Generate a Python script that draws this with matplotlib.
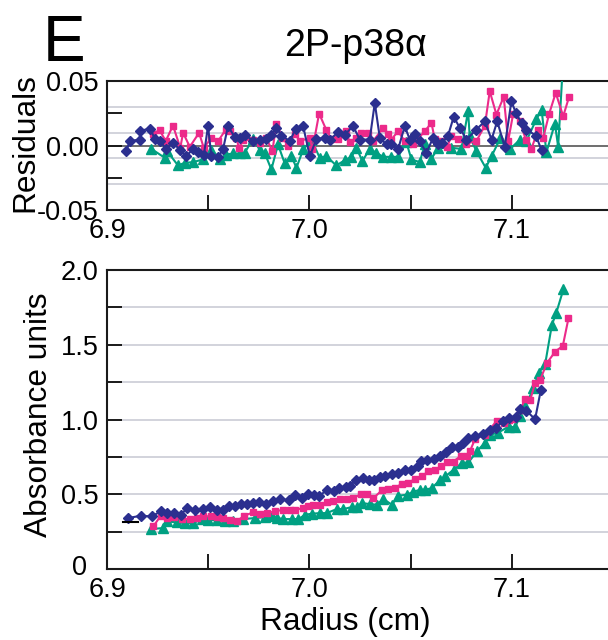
# coding: utf-8

"""
Sedimentation equilibrium of 2P-p38alpha: residuals and absorbance vs radius
"""

import matplotlib
matplotlib.use("Agg")
import matplotlib.pyplot as plt
import matplotlib.transforms as mtransforms

#==========
# Data

# --- absorbance, diamonds (navy)
abs_navy_x = [6.9105, 6.9166, 6.9221, 6.9265, 6.9298, 6.9331, 6.9364, 6.9397, 6.9435, 6.9476,
	6.9509, 6.9542, 6.9575, 6.9605, 6.9633, 6.9661, 6.9690, 6.9723, 6.9753, 6.9786,
	6.9819, 6.9855, 6.9901, 6.9929, 6.9962, 6.9995, 7.0023, 7.0049, 7.0089, 7.0122,
	7.0148, 7.0181, 7.0201, 7.0231, 7.0264, 7.0292, 7.0320, 7.0349, 7.0374, 7.0407,
	7.0440, 7.0473, 7.0501, 7.0539, 7.0550, 7.0580, 7.0616, 7.0646, 7.0675, 7.0703,
	7.0736, 7.0761, 7.0786, 7.0819, 7.0860, 7.0893, 7.0923, 7.0956, 7.0988, 7.1021,
	7.1041, 7.1071, 7.1115, 7.1143]
abs_navy_y = [0.341, 0.356, 0.352, 0.385, 0.374, 0.374, 0.363, 0.408, 0.396, 0.401,
	0.414, 0.396, 0.392, 0.423, 0.419, 0.437, 0.434, 0.441, 0.445, 0.437,
	0.452, 0.468, 0.459, 0.494, 0.477, 0.503, 0.494, 0.490, 0.530, 0.523,
	0.543, 0.548, 0.557, 0.597, 0.608, 0.597, 0.597, 0.615, 0.619, 0.637,
	0.641, 0.659, 0.659, 0.686, 0.722, 0.726, 0.735, 0.753, 0.780, 0.813,
	0.813, 0.842, 0.875, 0.891, 0.904, 0.931, 0.942, 0.993, 1.007, 1.016,
	1.071, 1.060, 1.002, 1.194]

# --- absorbance, squares (pink)
abs_pink_x = [6.9229, 6.9265, 6.9298, 6.9331, 6.9369, 6.9410, 6.9443, 6.9476, 6.9512, 6.9542,
	6.9575, 6.9608, 6.9641, 6.9677, 6.9723, 6.9756, 6.9789, 6.9830, 6.9868, 6.9904,
	6.9929, 6.9970, 6.9995, 7.0020, 7.0053, 7.0089, 7.0119, 7.0152, 7.0185, 7.0217,
	7.0254, 7.0283, 7.0316, 7.0358, 7.0390, 7.0423, 7.0456, 7.0489, 7.0522, 7.0555,
	7.0588, 7.0621, 7.0649, 7.0682, 7.0712, 7.0748, 7.0778, 7.0794, 7.0819, 7.0868,
	7.0926, 7.0959, 7.0988, 7.1008, 7.1041, 7.1066, 7.1091, 7.1115, 7.1140, 7.1173,
	7.1214, 7.1252, 7.1280]
abs_pink_y = [0.285, 0.356, 0.341, 0.347, 0.334, 0.334, 0.339, 0.352, 0.352, 0.347,
	0.341, 0.325, 0.318, 0.356, 0.379, 0.370, 0.374, 0.385, 0.396, 0.392,
	0.396, 0.408, 0.423, 0.430, 0.430, 0.445, 0.452, 0.468, 0.468, 0.474,
	0.501, 0.501, 0.474, 0.526, 0.535, 0.541, 0.570, 0.575, 0.604, 0.619,
	0.653, 0.659, 0.686, 0.715, 0.719, 0.757, 0.753, 0.791, 0.871, 0.898,
	0.991, 0.976, 0.998, 1.002, 1.065, 1.136, 1.131, 1.243, 1.265, 1.376,
	1.454, 1.492, 1.677]

# --- absorbance, triangles (green)
abs_green_x = [6.9216, 6.9278, 6.9298, 6.9344, 6.9386, 6.9427, 6.9468, 6.9501, 6.9542, 6.9583,
	6.9624, 6.9674, 6.9731, 6.9781, 6.9814, 6.9839, 6.9871, 6.9913, 6.9946, 6.9979,
	7.0012, 7.0053, 7.0086, 7.0135, 7.0168, 7.0209, 7.0234, 7.0259, 7.0300, 7.0333,
	7.0366, 7.0407, 7.0440, 7.0481, 7.0514, 7.0547, 7.0572, 7.0605, 7.0646, 7.0671,
	7.0712, 7.0753, 7.0786, 7.0827, 7.0868, 7.0893, 7.0934, 7.0984, 7.1016, 7.1041,
	7.1066, 7.1107, 7.1132, 7.1165, 7.1198, 7.1219, 7.1255]
abs_green_y = [0.267, 0.274, 0.318, 0.312, 0.307, 0.307, 0.334, 0.330, 0.325, 0.323,
	0.318, 0.334, 0.341, 0.347, 0.352, 0.341, 0.334, 0.334, 0.334, 0.363,
	0.370, 0.374, 0.374, 0.401, 0.401, 0.414, 0.414, 0.441, 0.434, 0.430,
	0.468, 0.430, 0.490, 0.497, 0.517, 0.530, 0.530, 0.541, 0.597, 0.619,
	0.664, 0.708, 0.713, 0.786, 0.846, 0.898, 0.913, 0.953, 0.947, 1.024,
	1.087, 1.209, 1.310, 1.372, 1.633, 1.710, 1.871]

# short black stub at the inner edge
stub_x = [6.9081, 6.9155]
stub_y = [0.314, 0.314]

# --- residuals, diamonds (navy)
res_navy_x = [6.9096, 6.9112, 6.9161, 6.9165, 6.9214, 6.9236, 6.9264, 6.9290, 6.9326, 6.9362,
	6.9392, 6.9425, 6.9450, 6.9479, 6.9499, 6.9516, 6.9549, 6.9573, 6.9598, 6.9631,
	6.9656, 6.9680, 6.9722, 6.9755, 6.9787, 6.9812, 6.9837, 6.9862, 6.9903, 6.9932,
	6.9969, 7.0002, 7.0035, 7.0076, 7.0101, 7.0142, 7.0175, 7.0216, 7.0249, 7.0298,
	7.0323, 7.0348, 7.0381, 7.0405, 7.0438, 7.0471, 7.0496, 7.0521, 7.0545, 7.0578,
	7.0611, 7.0636, 7.0657, 7.0685, 7.0713, 7.0743, 7.0776, 7.0825, 7.0867, 7.0900,
	7.0928, 7.0965, 7.0998, 7.1020, 7.1048, 7.1072, 7.1119, 7.1147]
res_navy_y = [-0.0044, 0.0034, 0.0046, 0.0116, 0.0129, 0.0052, 0.0034, -0.0026, 0.0021, -0.0036,
	-0.0083, -0.0026, -0.0052, -0.0070, 0.0150, -0.0083, -0.0088, -0.0031, 0.0150, 0.0065,
	0.0059, 0.0085, 0.0034, 0.0046, 0.0052, 0.0085, 0.0137, 0.0077, 0.0034, 0.0129,
	0.0150, -0.0083, 0.0052, 0.0059, 0.0046, 0.0103, 0.0085, 0.0150, 0.0046, 0.0046,
	0.0330, 0.0059, 0.0008, 0.0008, -0.0031, 0.0150, 0.0046, 0.0093, 0.0034, -0.0057,
	0.0059, 0.0008, 0.0021, 0.0077, 0.0222, 0.0137, 0.0046, 0.0124, 0.0188, 0.0046,
	0.0188, -0.0010, 0.0343, 0.0253, 0.0175, 0.0124, 0.0077, -0.0036]

# --- residuals, squares (pink)
res_pink_x = [6.9227, 6.9260, 6.9290, 6.9326, 6.9362, 6.9376, 6.9409, 6.9455, 6.9478, 6.9516,
	6.9549, 6.9587, 6.9606, 6.9639, 6.9652, 6.9672, 6.9722, 6.9755, 6.9787, 6.9817,
	6.9837, 6.9867, 6.9895, 6.9928, 6.9952, 7.0002, 7.0015, 7.0048, 7.0084, 7.0109,
	7.0142, 7.0180, 7.0199, 7.0232, 7.0257, 7.0290, 7.0315, 7.0364, 7.0389, 7.0405,
	7.0438, 7.0471, 7.0512, 7.0570, 7.0603, 7.0619, 7.0652, 7.0680, 7.0702, 7.0735,
	7.0776, 7.0825, 7.0867, 7.0891, 7.0924, 7.0960, 7.0982, 7.1007, 7.1040, 7.1069,
	7.1097, 7.1130, 7.1155, 7.1185, 7.1217, 7.1254, 7.1283]
res_pink_y = [0.0093, 0.0119, 0.0034, 0.0155, -0.0018, 0.0098, -0.0010, 0.0098, -0.0018, 0.0059,
	0.0034, 0.0124, 0.0111, 0.0059, -0.0018, 0.0041, 0.0046, 0.0021, 0.0059, -0.0044,
	0.0170, 0.0059, 0.0000, 0.0093, 0.0034, 0.0059, -0.0031, 0.0248, 0.0119, 0.0052,
	0.0052, 0.0111, 0.0026, 0.0059, 0.0098, 0.0098, 0.0034, 0.0137, 0.0093, 0.0046,
	0.0111, 0.0034, 0.0008, 0.0111, 0.0175, 0.0052, 0.0034, -0.0010, 0.0072, 0.0054,
	0.0015, 0.0034, 0.0155, 0.0421, 0.0240, 0.0377, 0.0034, 0.0248, 0.0188, 0.0046,
	-0.0026, 0.0124, 0.0059, 0.0248, 0.0408, 0.0227, 0.0377]

# --- residuals, triangles (green)
res_green_x = [6.9219, 6.9285, 6.9297, 6.9351, 6.9384, 6.9425, 6.9474, 6.9516, 6.9557, 6.9590,
	6.9623, 6.9656, 6.9680, 6.9722, 6.9755, 6.9779, 6.9812, 6.9845, 6.9878, 6.9911,
	6.9936, 6.9969, 7.0010, 7.0051, 7.0084, 7.0133, 7.0175, 7.0208, 7.0232, 7.0262,
	7.0298, 7.0331, 7.0364, 7.0405, 7.0438, 7.0479, 7.0504, 7.0545, 7.0570, 7.0603,
	7.0636, 7.0702, 7.0751, 7.0784, 7.0792, 7.0825, 7.0871, 7.0900, 7.0944, 7.0993,
	7.1040, 7.1072, 7.1122, 7.1147, 7.1171, 7.1213, 7.1229, 7.1250]
res_green_y = [-0.0026, -0.0095, -0.0044, -0.0155, -0.0134, -0.0129, -0.0108, -0.0036, -0.0103, -0.0070,
	-0.0062, -0.0062, -0.0057, 0.0052, -0.0036, -0.0057, -0.0186, 0.0008, -0.0139, -0.0083,
	-0.0173, -0.0031, 0.0046, -0.0095, -0.0083, -0.0155, -0.0114, -0.0088, -0.0018, -0.0121,
	-0.0026, -0.0057, -0.0088, -0.0088, -0.0088, 0.0026, -0.0108, -0.0129, 0.0008, -0.0103,
	-0.0018, -0.0018, -0.0026, 0.0266, 0.0072, -0.0044, -0.0173, -0.0083, 0.0059, -0.0026,
	0.0046, 0.0034, 0.0206, 0.0279, -0.0052, 0.0170, -0.0010, 0.0562]

# axis ticks
x_ticks = [6.9, 6.95, 7.0, 7.05, 7.1]
x_tick_labels = ["6.9", "", "7.0", "", "7.1"]
res_ticks = [-0.05, -0.025, 0.0, 0.025, 0.05]
res_tick_labels = ["-0.05", "", "0.00", "", "0.05"]
res_grid = [-0.03, -0.01, 0.01, 0.03]
abs_ticks = [0, 0.25, 0.5, 0.75, 1.0, 1.25, 1.5, 1.75, 2.0]
abs_tick_labels = ["0", "", "0.5", "", "1.0", "", "1.5", "", "2.0"]

NAVY = "#2b2f8f"
PINK = "#ec2a8a"
GREEN = "#00a082"
GRID = "#cfd0d9"

#==========
# Main

def style_axes(ax):
	for side in ["left", "bottom", "top"]:
		ax.spines[side].set_linewidth(1.5)
		ax.spines[side].set_color("#1a1a1a")
	ax.spines["right"].set_visible(False)
	ax.tick_params(axis="both", which="major", direction="in", length=11, width=1.4,
		labelsize=19.5, color="#1a1a1a", top=False, right=False)
	ax.tick_params(axis="y", pad=6)
	ax.tick_params(axis="x", pad=6)
	ax.set_xlim(6.9, 7.15)
	ax.set_xticks(x_ticks)
	ax.set_xticklabels(x_tick_labels)

def draw_series(ax, xs, ys, color, marker, ms):
	ax.plot(xs, ys, color=color, lw=1.5, marker=marker, ms=ms, mec=color, mfc=color, zorder=3)

def main():
	plt.rcParams["font.family"] = ["Liberation Sans", "DejaVu Sans"]
	fig = plt.figure(figsize=(6.08, 6.4), dpi=100)

	# Residuals
	ax1 = fig.add_axes([107 / 608, 1 - 210 / 640, 506 / 608, 129 / 640])
	style_axes(ax1)
	ax1.set_ylim(-0.05, 0.05)
	ax1.set_yticks(res_ticks)
	ax1.set_yticklabels(res_tick_labels)
	for g in res_grid:
		ax1.axhline(g, color=GRID, lw=1.3, zorder=1)
	ax1.axhline(0, color="#555555", lw=1.2, zorder=1)
	draw_series(ax1, res_green_x, res_green_y, GREEN, "^", 6.5)
	draw_series(ax1, res_pink_x, res_pink_y, PINK, "s", 5)
	draw_series(ax1, res_navy_x, res_navy_y, NAVY, "D", 4.6)

	# Absorbance
	ax2 = fig.add_axes([107 / 608, 1 - 569 / 640, 506 / 608, 299 / 640])
	style_axes(ax2)
	ax2.set_ylim(0, 2.0)
	ax2.set_yticks(abs_ticks)
	ax2.set_yticklabels(abs_tick_labels)
	for g in abs_ticks[1:-1]:
		ax2.axhline(g, color=GRID, lw=1.3, zorder=1)
	draw_series(ax2, abs_green_x, abs_green_y, GREEN, "^", 6.5)
	draw_series(ax2, abs_pink_x, abs_pink_y, PINK, "s", 5)
	draw_series(ax2, abs_navy_x, abs_navy_y, NAVY, "D", 4.6)
	ax2.plot(stub_x, stub_y, color="black", lw=1.5, zorder=4)

	# the "0" label sits left of the others so it clears "6.9"
	zero_label = ax2.get_yticklabels()[0]
	zero_label.set_transform(zero_label.get_transform() +
		mtransforms.ScaledTranslation(-12 / 100, 4 / 100, fig.dpi_scale_trans))

	# Text
	fig.text(0.041, 1 - 143 / 640, "Residuals", rotation=90, ha="center", va="center", fontsize=22.8)
	fig.text(0.064, 1 - 415 / 640, "Absorbance units", rotation=90, ha="center", va="center", fontsize=22.8)
	fig.text(345 / 608, 1 - 630 / 640, "Radius (cm)", ha="center", va="baseline", fontsize=22.8)
	fig.text(356 / 608, 1 - 56 / 640, "2P-p38\u03b1", ha="center", va="baseline", fontsize=27)
	fig.text(43 / 608, 1 - 61 / 640, "E", ha="left", va="baseline", fontsize=46)

	fig.savefig("out.png", dpi=100)

if __name__ == "__main__":
	main()
